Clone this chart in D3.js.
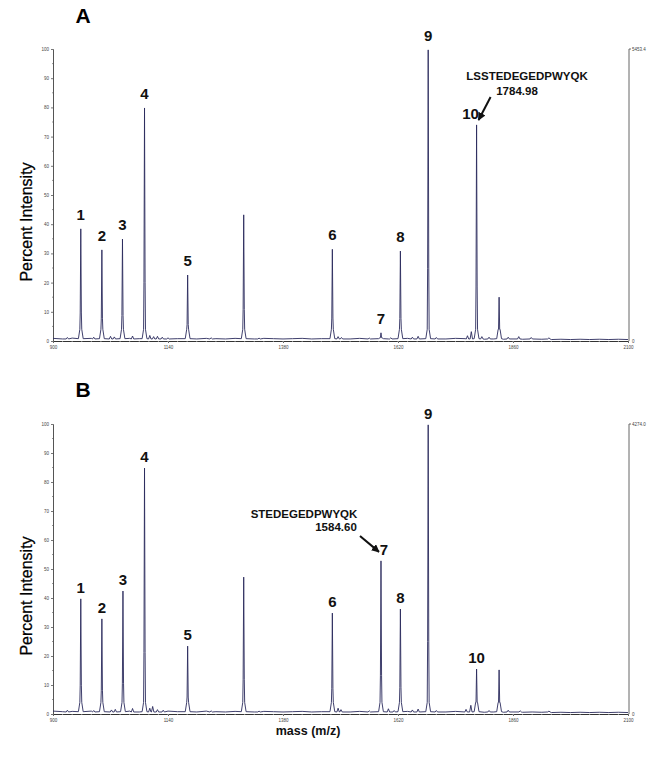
<!DOCTYPE html>
<html>
<head>
<meta charset="utf-8">
<script src="https://cdn.jsdelivr.net/npm/d3@7/dist/d3.min.js"></script>
<style>
  html, body { margin: 0; padding: 0; background: #fff; }
  svg { display: block; font-family: "Liberation Sans", Arial, sans-serif; }
</style>
</head>
<body>
<svg id="chart" width="670" height="757"></svg>
<script>
// ---------------- DATA ----------------
const xTicks = [900, 1140, 1380, 1620, 1860, 2100];
const yTicks = [0, 10, 20, 30, 40, 50, 60, 70, 80, 90, 100];

// major peaks [m/z, percent intensity, label]
const peaksA = [
  [958, 38.4, "1"], [1002, 31.2, "2"], [1045, 34.9, "3"], [1091, 79.8, "4"],
  [1181, 22.6, "5"], [1298, 43.2, ""], [1483, 31.4, "6"], [1584.5, 2.8, "7"],
  [1625, 30.8, "8"], [1683, 99.7, "9"], [1784, 74.0, "10"], [1831, 15.0, ""]
];
const peaksB = [
  [958, 39.7, "1"], [1002, 32.8, "2"], [1046, 42.4, "3"], [1091, 84.8, "4"],
  [1181, 23.4, "5"], [1298, 47.2, ""], [1483, 34.8, "6"], [1584.5, 52.8, "7"],
  [1625, 36.2, "8"], [1683, 99.7, "9"], [1784, 15.5, "10"], [1831, 15.2, ""]
];

// small background bumps [m/z, percent]
const bumpsA = [
  [930, 1.2], [985, 1.3], [1020, 1.6], [1028, 1.4], [1066, 1.7], [1102, 1.9],
  [1110, 1.5], [1118, 1.6], [1128, 1.3], [1140, 1.1], [1230, 1.1], [1330, 1.0],
  [1495, 1.5], [1502, 1.2], [1560, 1.0], [1605, 1.1], [1650, 1.3], [1662, 1.6],
  [1700, 1.2], [1765, 1.8], [1773, 3.2], [1795, 1.5], [1810, 1.3],
  [1850, 1.3], [1872, 1.5], [1898, 1.2], [1935, 1.1]
];
const bumpsB = [
  [930, 1.3], [985, 1.2], [1022, 1.4], [1030, 1.6], [1066, 1.9], [1102, 2.0],
  [1108, 2.6], [1118, 1.5], [1130, 1.3], [1230, 1.1], [1330, 1.0],
  [1495, 2.0], [1501, 1.5], [1560, 1.1], [1600, 1.8], [1612, 1.2], [1650, 1.4],
  [1662, 1.7], [1700, 1.2], [1762, 1.6], [1772, 3.0], [1810, 1.2],
  [1850, 1.3], [1875, 1.1], [1935, 1.0]
];

// baseline level sampled every 20 m/z (900 .. 2100)
const baseA = [0.9,0.7,1.0,0.8,0.9,0.7,1.0,0.8,0.9,0.8,1.0,0.7,0.9,0.8,1.0,0.7,0.9,0.8,0.7,0.9,
               0.8,0.7,0.9,0.8,0.7,0.8,0.9,0.7,0.8,0.9,0.8,0.7,0.9,0.8,0.9,0.7,0.8,0.9,0.8,0.9,
               0.8,0.7,0.9,0.8,0.7,0.6,0.7,0.6,0.7,0.6,0.7,0.6,0.5,0.6,0.5,0.6,0.5,0.6,0.5,0.6,0.5];
const baseB = [1.0,0.8,0.9,0.7,1.0,0.8,0.9,0.8,1.0,0.7,0.9,0.8,1.0,0.8,0.9,0.7,1.0,0.8,0.7,0.9,
               0.8,0.7,0.9,0.8,0.7,0.8,0.9,0.7,0.8,0.9,0.8,0.7,0.9,0.8,0.9,0.7,0.8,0.9,0.8,0.9,
               0.8,0.7,0.9,0.8,0.7,0.6,0.7,0.6,0.7,0.6,0.7,0.6,0.5,0.6,0.5,0.6,0.5,0.6,0.5,0.6,0.5];

const panelLetters = ["A", "B"];
const rightMax = ["5453.4", "4274.0"];
const annotations = [
  { panel: 0, name: "LSSTEDEGEDPWYQK", mz: "1784.98" },
  { panel: 1, name: "STEDEGEDPWYQK", mz: "1584.60" }
];
const yTitle = "Percent Intensity";
const xTitle = "mass (m/z)";

// ---------------- DRAW ----------------
const svg = d3.select("#chart");
const x = d3.scaleLinear().domain([900, 2100]).range([53, 628]);

const panels = [
  { peaks: peaksA, bumps: bumpsA, base: baseA, y0: 341, y1: 49, lblOff: 9, letterY: 23 },
  { peaks: peaksB, bumps: bumpsB, base: baseB, y0: 714, y1: 424, lblOff: 6, letterY: 397 }
];

function buildSpectrum(p) {
  const pts = [];
  p.base.forEach((v, i) => pts.push([900 + i * 20, v]));
  const near = (m, list, w) => list.some(q => Math.abs(q[0] - m) < w);
  const filtered = pts.filter(d => !near(d[0], p.peaks, 7) && !near(d[0], p.bumps, 4));
  const out = filtered.slice();
  p.bumps.forEach(b => {
    out.push([b[0] - 2.5, 0.7]); out.push([b[0], b[1]]); out.push([b[0] + 2.5, 0.7]);
  });
  p.peaks.forEach(k => {
    const m = k[0], h = k[1];
    const sh = Math.min(h * 0.4, 4);
    out.push([m - 5, 0.8]);
    out.push([m - 2, sh]);
    out.push([m - 1.2, Math.max(h * 0.25, sh)]);
    out.push([m, h]);
    out.push([m + 1.2, Math.max(h * 0.25, sh)]);
    out.push([m + 2, sh]);
    out.push([m + 5, 0.8]);
  });
  out.sort((a, b) => a[0] - b[0]);
  return out;
}

panels.forEach((p, pi) => {
  const y = d3.scaleLinear().domain([0, 100]).range([p.y0, p.y1]);
  const g = svg.append("g");

  // panel letter
  g.append("text").attr("x", 83).attr("y", p.letterY).attr("text-anchor", "middle")
    .attr("font-size", 21).attr("font-weight", "bold").text(panelLetters[pi]);

  // y title
  g.append("text")
    .attr("transform", `translate(32,${(p.y0 + p.y1) / 2 + 27}) rotate(-90)`)
    .attr("text-anchor", "middle").attr("font-size", 16).attr("fill", "#000")
    .attr("stroke", "#000").attr("stroke-width", 0.25)
    .text(yTitle);

  // left axis
  const yAxis = d3.axisLeft(y).tickValues(yTicks).tickSize(2).tickPadding(2).tickFormat(d3.format("d"));
  const ya = g.append("g").attr("transform", "translate(53,0)").call(yAxis);
  ya.selectAll("text").attr("font-size", 4.5).attr("fill", "#444");
  ya.select(".domain").attr("stroke", "#555");
  ya.selectAll(".tick line").attr("stroke", "#777");
  // minor left ticks
  g.append("g").selectAll("line").data(d3.range(5, 100, 10)).join("line")
    .attr("x1", 52).attr("x2", 53).attr("y1", d => y(d)).attr("y2", d => y(d))
    .attr("stroke", "#999");

  // bottom axis
  const xAxis = d3.axisBottom(x).tickValues(xTicks).tickSize(2).tickPadding(3).tickFormat(d3.format("d"));
  const xa = g.append("g").attr("transform", `translate(0,${p.y0})`).call(xAxis);
  xa.selectAll("text").attr("font-size", 4.5).attr("fill", "#444");
  xa.select(".domain").attr("stroke", "#333");
  xa.selectAll(".tick line").attr("stroke", "#666");
  g.append("g").selectAll("line").data(d3.range(920, 2100, 20)).join("line")
    .attr("x1", d => x(d)).attr("x2", d => x(d)).attr("y1", p.y0).attr("y2", p.y0 + 1)
    .attr("stroke", "#999");

  // right axis
  const xr = x(2100) + 1;
  g.append("line").attr("x1", xr).attr("x2", xr).attr("y1", y(100)).attr("y2", y(0))
    .attr("stroke", "#666");
  g.append("line").attr("x1", xr).attr("x2", xr + 2).attr("y1", y(100)).attr("y2", y(100))
    .attr("stroke", "#666");
  g.append("text").attr("x", xr + 3).attr("y", y(100) + 1.5).attr("font-size", 4.5)
    .attr("fill", "#444").text(rightMax[pi]);
  g.append("text").attr("x", xr + 3).attr("y", y(0) + 1.5).attr("font-size", 4.5)
    .attr("fill", "#444").text("0");

  // spectrum
  const line = d3.line().x(d => x(d[0])).y(d => y(d[1]));
  g.append("path").datum(buildSpectrum(p)).attr("d", line)
    .attr("fill", "none").attr("stroke", "#2a2a5c").attr("stroke-width", 0.9)
    .attr("stroke-linejoin", "round");

  // peak labels
  g.append("g").selectAll("text").data(p.peaks.filter(d => d[2] !== "")).join("text")
    .attr("x", d => x(d[0]) + ((pi === 0 && d[2] === "10") ? -6 : (pi === 1 && d[2] === "7") ? 3 : 0))
    .attr("y", d => y(d[1]) - ((pi === 0 && d[2] === "10") ? 6 : p.lblOff))
    .attr("text-anchor", "middle").attr("font-size", 15).attr("font-weight", "bold")
    .attr("fill", "#111").text(d => d[2]);
});

// annotations with arrows
svg.append("defs").append("marker").attr("id", "ah").attr("viewBox", "0 0 10 10")
  .attr("refX", 9).attr("refY", 5).attr("markerWidth", 4).attr("markerHeight", 4)
  .attr("orient", "auto").append("path").attr("d", "M0,0 L10,5 L0,10 z").attr("fill", "#111");

const yA = d3.scaleLinear().domain([0, 100]).range([341, 49]);
const yB = d3.scaleLinear().domain([0, 100]).range([714, 424]);

// panel A annotation (peak 10)
const a0 = annotations[0];
svg.append("text").attr("x", 527).attr("y", 80).attr("text-anchor", "middle")
  .attr("font-size", 11.5).attr("font-weight", "bold").attr("fill", "#111").text(a0.name);
svg.append("text").attr("x", 517).attr("y", 95).attr("text-anchor", "middle")
  .attr("font-size", 11.5).attr("font-weight", "bold").attr("fill", "#111").text(a0.mz);
svg.append("line").attr("x1", x(1784) + 14).attr("y1", 97).attr("x2", x(1784) + 2).attr("y2", yA(74) - 5)
  .attr("stroke", "#111").attr("stroke-width", 2).attr("marker-end", "url(#ah)");

// panel B annotation (peak 7)
const a1 = annotations[1];
svg.append("text").attr("x", 304).attr("y", 518).attr("text-anchor", "middle")
  .attr("font-size", 11.5).attr("font-weight", "bold").attr("fill", "#111").text(a1.name);
svg.append("text").attr("x", 336).attr("y", 531).attr("text-anchor", "middle")
  .attr("font-size", 11.5).attr("font-weight", "bold").attr("fill", "#111").text(a1.mz);
svg.append("line").attr("x1", 360).attr("y1", 536).attr("x2", x(1584.5) - 2).attr("y2", yB(52.8) - 9)
  .attr("stroke", "#111").attr("stroke-width", 2).attr("marker-end", "url(#ah)");

// x title
svg.append("text").attr("x", 308).attr("y", 735).attr("text-anchor", "middle")
  .attr("font-size", 12.5).attr("font-weight", "bold").attr("fill", "#111").text(xTitle);
</script>
</body>
</html>
